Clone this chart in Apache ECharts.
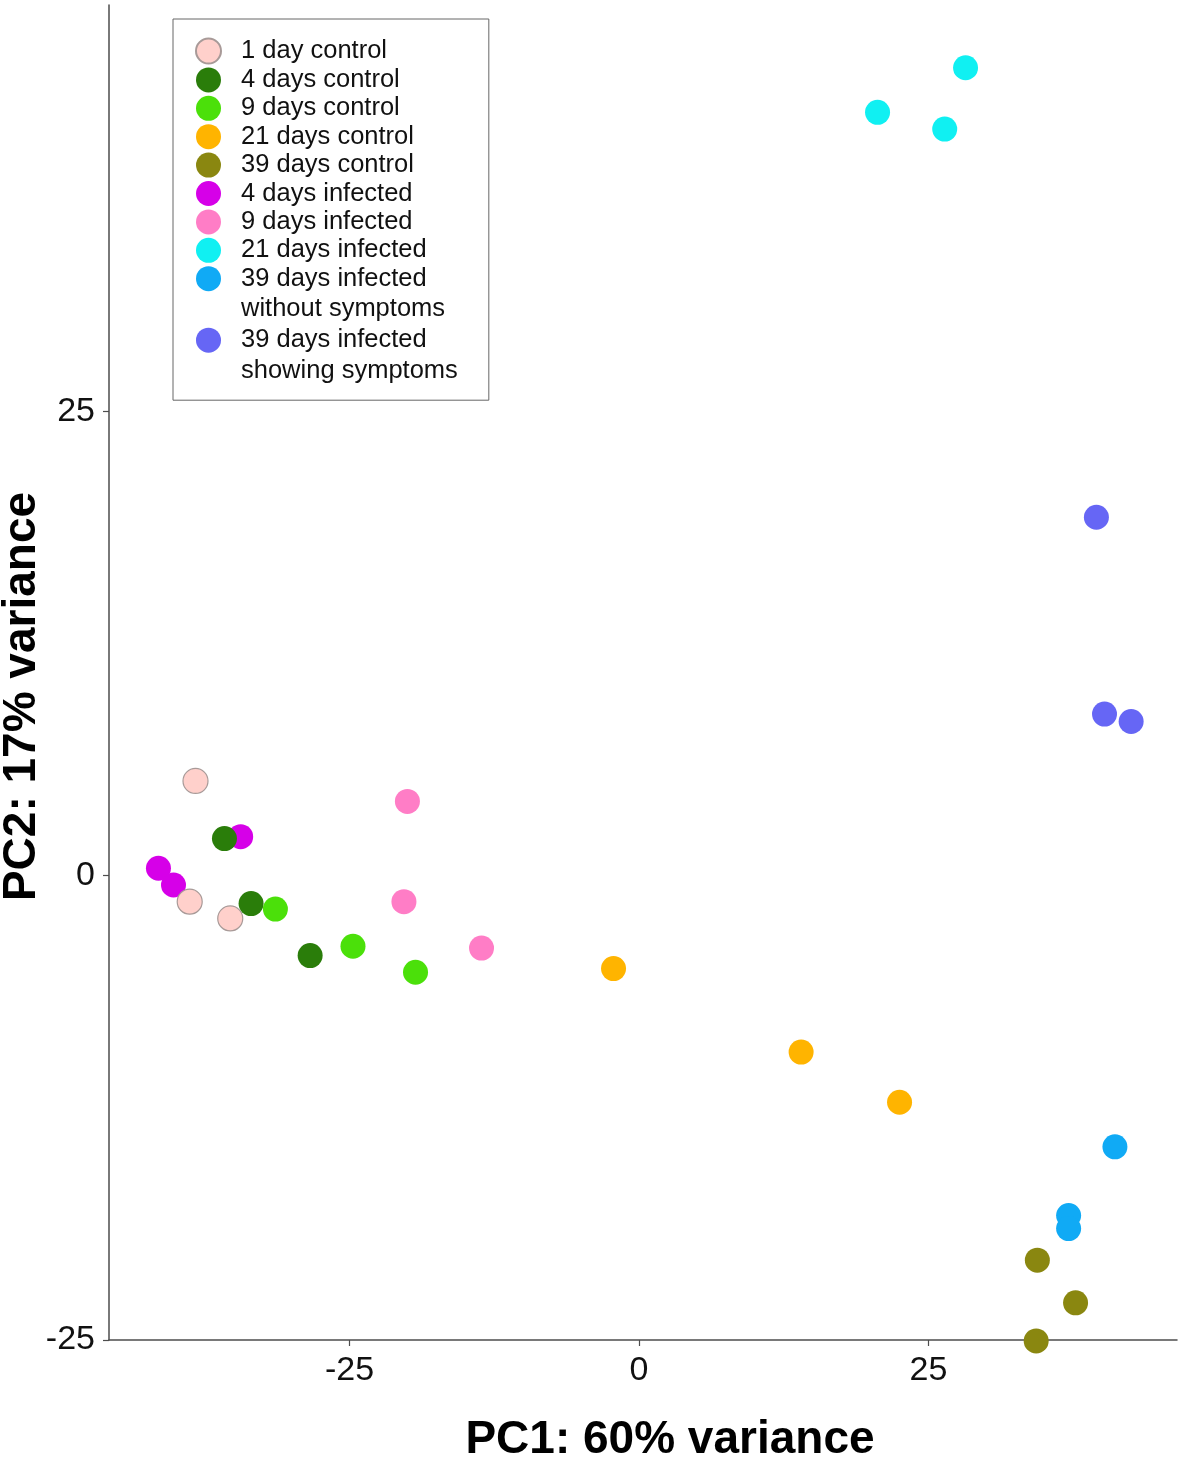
<!DOCTYPE html>
<html>
<head>
<meta charset="utf-8">
<script src="https://cdn.jsdelivr.net/npm/echarts@6/dist/echarts.min.js"></script>
<style>
  html, body { margin: 0; padding: 0; background: #fff; }
  #chart { width: 1181px; height: 1459px; }
</style>
</head>
<body>
<div id="chart"></div>
<script>
// PCA points per group, [PC1, PC2]
var groupNames = [
  '1 day control',
  '4 days control',
  '9 days control',
  '21 days control',
  '39 days control',
  '4 days infected',
  '9 days infected',
  '21 days infected',
  '39 days infected without symptoms',
  '39 days infected showing symptoms'
];
var day1Control = [[-38.3, 5.1], [-38.8, -1.4], [-35.3, -2.3]];
var day4Control = [[-35.8, 2.0], [-33.5, -1.5], [-28.4, -4.3]];
var day9Control = [[-31.4, -1.8], [-24.7, -3.8], [-19.3, -5.2]];
var day21Control = [[-2.2, -5.0], [14.0, -9.5], [22.5, -12.2]];
var day39Control = [[34.4, -20.7], [37.7, -23.0], [34.3, -25.05]];
var day4Infected = [[-34.4, 2.1], [-41.5, 0.4], [-40.2, -0.5]];
var day9Infected = [[-20.0, 4.0], [-20.3, -1.4], [-13.6, -3.9]];
var day21Infected = [[28.2, 43.5], [20.6, 41.1], [26.4, 40.2]];
var day39NoSymptoms = [[41.1, -14.6], [37.1, -18.3], [37.1, -19.0]];
var day39Symptoms = [[39.5, 19.3], [40.2, 8.7], [42.5, 8.3]];

var groupData = [day1Control, day4Control, day9Control, day21Control, day39Control,
  day4Infected, day9Infected, day21Infected, day39NoSymptoms, day39Symptoms];
var groupColors = ['#ffd0cb', '#2a7d0a', '#4be00a', '#ffb400', '#8a8710',
  '#d600e8', '#ff7dc6', '#10f0f2', '#10aaf5', '#6666f5'];

var xTicks = [-25, 0, 25];
var yTicks = [-25, 0, 25];

var chart = echarts.init(document.getElementById('chart'));

var series = [];
for (var i = 0; i < groupNames.length; i++) {
  series.push({
    type: 'scatter',
    name: groupNames[i],
    data: groupData[i],
    symbol: 'circle',
    symbolSize: 25,
    clip: false,
    z: i === 5 ? 1 : 2,
    itemStyle: {
      color: groupColors[i],
      opacity: 1,
      borderColor: i === 0 ? '#a89a98' : groupColors[i],
      borderWidth: i === 0 ? 1.2 : 0
    },
    emphasis: { disabled: true }
  });
}

// legend text: the long names wrap; the wrapped tail of item 9 is carried
// by item 10 (3 lines, centred on its dot) so every dot sits on a first line
function legendLabel(name) {
  if (name === groupNames[8]) {
    return '39 days infected';
  }
  if (name === groupNames[9]) {
    return 'without symptoms\n39 days infected\nshowing symptoms';
  }
  return name;
}
var legendData = groupNames.map(function (name, idx) {
  return idx === 9 ? { name: name, textStyle: { lineHeight: 30.7 } } : { name: name };
});

var axisCommon = {
  type: 'value',
  splitLine: { show: false },
  axisLine: { show: true, onZero: false, lineStyle: { color: '#4d4d4d', width: 1.5 } },
  axisTick: { show: true, length: 6, lineStyle: { color: '#4d4d4d', width: 1.2 } },
  nameLocation: 'middle',
  nameMoveOverlap: false,
  nameTextStyle: {
    color: '#000',
    fontFamily: 'Liberation Sans',
    fontWeight: 'bold',
    fontSize: 46
  }
};

var option = {
  animation: false,
  backgroundColor: '#fff',
  grid: {
    left: 109,
    right: 4,
    top: 5,
    bottom: 119,
    containLabel: false,
    outerBoundsMode: 'none'
  },
  legend: {
    orient: 'vertical',
    left: 173,
    top: 19,
    padding: [18.5, 31, 14, 22],
    itemWidth: 55,
    itemHeight: 25,
    itemGap: 2.4,
    icon: 'circle',
    selectedMode: false,
    backgroundColor: '#fff',
    borderColor: '#666',
    borderWidth: 1,
    formatter: legendLabel,
    textStyle: {
      color: '#111',
      fontFamily: 'Liberation Sans',
      fontSize: 25.5,
      lineHeight: 25
    },
    data: legendData
  },
  xAxis: Object.assign({}, axisCommon, {
    min: -45.77,
    max: 46.46,
    name: 'PC1: 60% variance',
    nameGap: 77,
    nameTextStyle: Object.assign({}, axisCommon.nameTextStyle, { padding: [0, 0, 0, 54] }),
    axisTick: Object.assign({}, axisCommon.axisTick, { customValues: xTicks }),
    axisLabel: {
      customValues: xTicks,
      color: '#111',
      fontFamily: 'Liberation Sans',
      fontSize: 34,
      margin: 14
    }
  }),
  yAxis: Object.assign({}, axisCommon, {
    min: -25,
    max: 46.88,
    name: 'PC2: 17% variance',
    nameGap: 64,
    nameTextStyle: Object.assign({}, axisCommon.nameTextStyle, { padding: [0, 48, 0, 0] }),
    axisTick: Object.assign({}, axisCommon.axisTick, { customValues: yTicks }),
    axisLabel: {
      customValues: yTicks,
      color: '#111',
      fontFamily: 'Liberation Sans',
      fontSize: 34,
      margin: 14
    }
  }),
  series: series
};

chart.setOption(option);
</script>
</body>
</html>
